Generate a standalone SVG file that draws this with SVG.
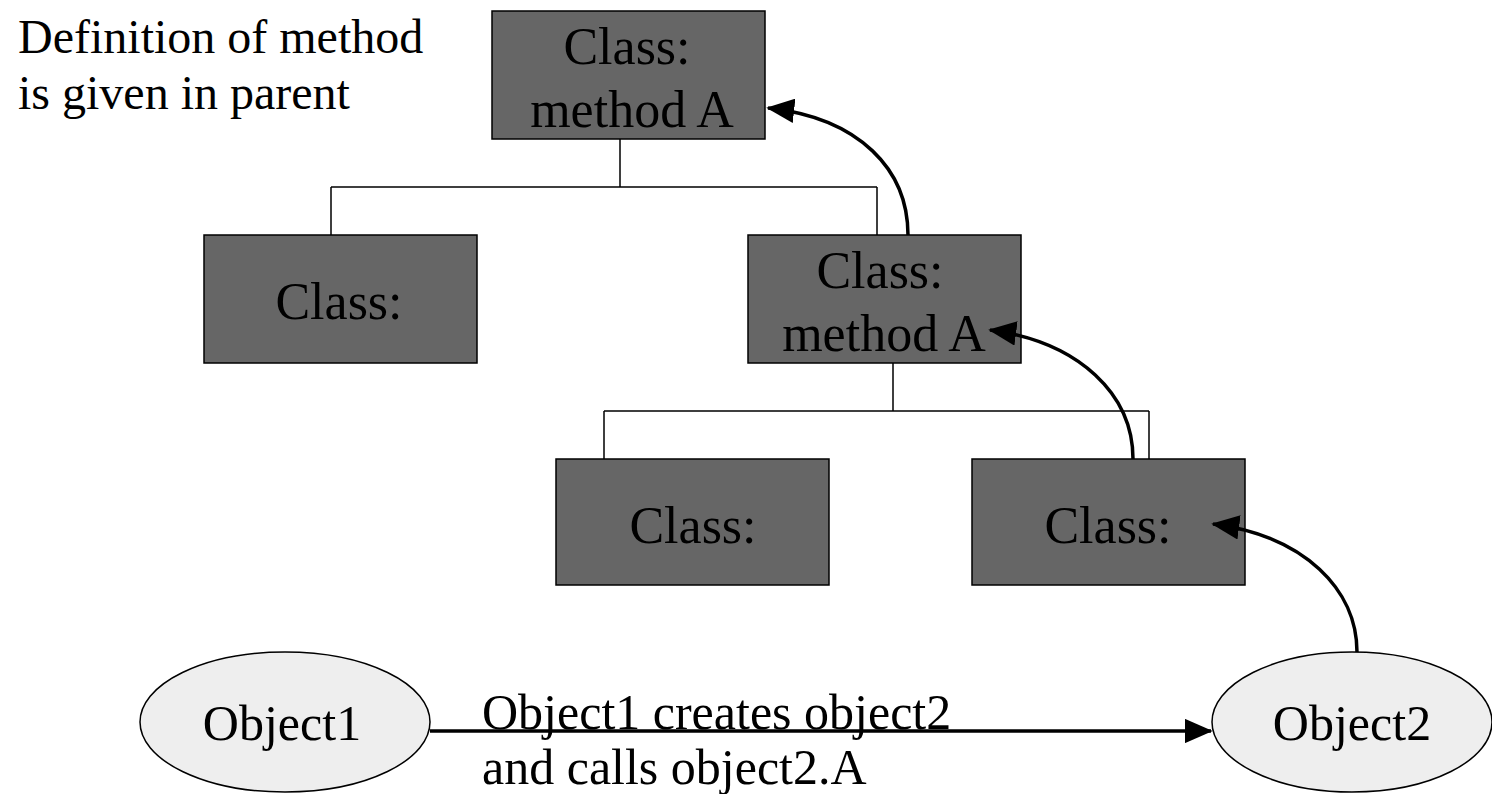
<svg xmlns="http://www.w3.org/2000/svg" width="1492" height="794" viewBox="0 0 1492 794">
<style>
.box{fill:#666666;stroke:#000;stroke-width:1.5}
.obj{fill:#eeeeee;stroke:#000;stroke-width:1.5}
text{font-family:'Liberation Serif',Tinos,'Times New Roman','DejaVu Serif',serif;fill:#000}
.ct{font-size:52px;text-anchor:middle}
.lt{font-size:48px}
.el{font-size:50px}
.tree{fill:none;stroke:#000;stroke-width:1.5}
.arr{fill:none;stroke:#000;stroke-width:3.5;marker-end:url(#ah)}
</style>
<defs>
<marker id="ah" markerWidth="8" markerHeight="7" refX="7.5" refY="3.5" orient="auto" markerUnits="strokeWidth">
<path d="M0,0 L8,3.5 L0,7 z" fill="#000"/>
</marker>
</defs>
<rect width="1492" height="794" fill="#fff"/>
<g id="note">
<text class="lt" x="18" y="53">Definition of method</text>
<text class="lt" x="18" y="109">is given in parent</text>
</g>
<g id="tree-lines">
<path class="tree" d="M620,139 V187 M331,187 H877 M331,187 V235 M877,187 V235"/>
<path class="tree" d="M893,363 V411 M604,411 H1149 M604,411 V459 M1149,411 V459"/>
</g>
<g id="class-top">
<rect class="box" x="492" y="11" width="273" height="128"/>
<text class="ct" x="627" y="64">Class:</text>
<text class="ct" x="632" y="127">method A</text>
</g>
<g id="class-mid-left">
<rect class="box" x="204" y="235" width="273" height="128"/>
<text class="ct" x="339" y="319">Class:</text>
</g>
<g id="class-mid-right">
<rect class="box" x="748" y="235" width="273" height="128"/>
<text class="ct" x="880" y="288">Class:</text>
<text class="ct" x="884" y="351">method A</text>
</g>
<g id="class-bot-left">
<rect class="box" x="556" y="459" width="273" height="126"/>
<text class="ct" x="693" y="543">Class:</text>
</g>
<g id="class-bot-right">
<rect class="box" x="972" y="459" width="273" height="126"/>
<text class="ct" x="1108" y="543">Class:</text>
</g>
<g id="object1">
<ellipse class="obj" cx="285" cy="722" rx="145" ry="70"/>
<text class="ct" x="282" y="740" style="font-size:50px">Object1</text>
</g>
<g id="object2">
<ellipse class="obj" cx="1352" cy="722" rx="140" ry="70"/>
<text class="ct" x="1352" y="740" style="font-size:50px">Object2</text>
</g>
<g id="connectors">
<path class="arr" d="M908,235 C908,170 860,118 768,108"/>
<path class="arr" d="M1133,459 C1133,395 1080,342 990,330"/>
<path class="arr" d="M1357,652 C1357,590 1305,536 1213,524"/>
<path class="arr" d="M430,731 H1211"/>
</g>
<g id="edge-label">
<text class="el" x="482" y="729">Object1 creates object2</text>
<text class="el" x="482" y="784">and calls object2.A</text>
</g>
</svg>
